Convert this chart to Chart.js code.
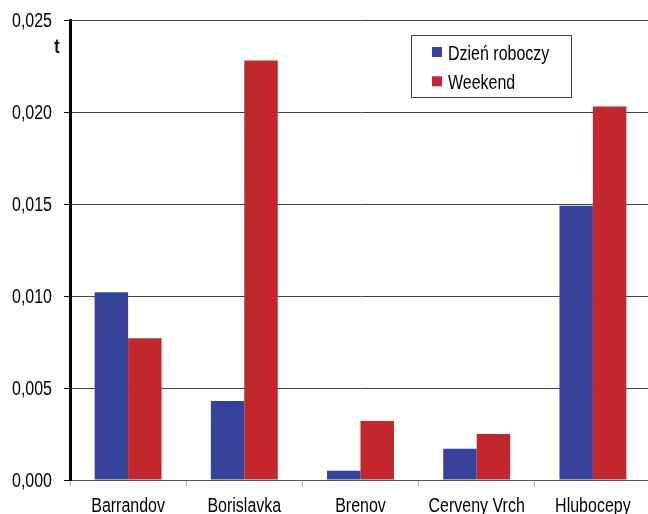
<!DOCTYPE html>
<html>
<head>
<meta charset="utf-8">
<script src="https://cdn.jsdelivr.net/npm/chart.js@4/dist/chart.umd.min.js"></script>
<style>
  html, body { margin: 0; padding: 0; background: #fff; overflow: hidden; }
  #wrap { position: relative; width: 651px; height: 514px; }
</style>
</head>
<body>
<div id="wrap"><canvas id="c" width="651" height="514"></canvas></div>
<script>
// Sites and measured values (t)
const categories = ['Barrandov', 'Borislavka', 'Brenov', 'Cerveny Vrch', 'Hlubocepy'];
const weekdayValues = [0.0102, 0.0043, 0.0005, 0.0017, 0.0149];
const weekendValues = [0.0077, 0.0228, 0.0032, 0.0025, 0.0203];
const seriesNames = ['Dzień roboczy', 'Weekend'];
const yTicks = [0, 0.005, 0.010, 0.015, 0.020, 0.025];
const unitLabel = 't';

const FONT = '"Liberation Sans", Arial, sans-serif';
const SIZE = 19.5;
const SQUEEZE = 0.82; // narrow face look
const BLUE = '#37429b';
const RED = '#c1272d';

function narrowText(ctx, text, x, y, align) {
  ctx.save();
  ctx.translate(x, y);
  ctx.scale(SQUEEZE, 1);
  ctx.textAlign = align;
  ctx.fillText(text, 0, 0);
  ctx.restore();
}

// Axis labels, legend box and the unit label, drawn in a condensed face
const overlay = {
  id: 'overlay',
  afterDraw(chart) {
    const ctx = chart.ctx;
    const ds = chart.data.datasets;
    const xs = chart.scales.x, ys = chart.scales.y;
    ctx.save();
    ctx.fillStyle = '#000';
    ctx.textBaseline = 'alphabetic';
    ctx.font = SIZE + 'px ' + FONT;
    // value axis labels
    ys.ticks.forEach((t, i) => {
      const y = ys.getPixelForTick(i);
      narrowText(ctx, t.value.toFixed(3).replace('.', ','), 52, y + 7, 'right');
    });
    // category labels
    chart.data.labels.forEach((lab, i) => {
      narrowText(ctx, lab, xs.getPixelForValue(i), 512, 'center');
    });
    // unit
    ctx.font = 'bold ' + SIZE + 'px ' + FONT;
    narrowText(ctx, unitLabel, 57, 53, 'center');
    // legend
    const bx = 411.5, by = 35.5, bw = 160, bh = 62;
    ctx.fillStyle = '#fff';
    ctx.fillRect(bx, by, bw, bh);
    ctx.strokeStyle = '#444';
    ctx.lineWidth = 1;
    ctx.strokeRect(bx, by, bw, bh);
    ctx.font = SIZE + 'px ' + FONT;
    ds.forEach((d, i) => {
      const top = 47 + i * 29.3;
      ctx.fillStyle = d.backgroundColor;
      ctx.fillRect(432, top, 10, 10);
      ctx.fillStyle = '#000';
      narrowText(ctx, d.label, 448, top + 12.5, 'left');
    });
    ctx.restore();
  }
};

new Chart(document.getElementById('c'), {
  type: 'bar',
  data: {
    labels: categories,
    datasets: [
      { label: seriesNames[0], data: weekdayValues, backgroundColor: BLUE },
      { label: seriesNames[1], data: weekendValues, backgroundColor: RED }
    ]
  },
  options: {
    responsive: false,
    animation: false,
    devicePixelRatio: 1,
    layout: { padding: { top: 20, right: 0, bottom: 0, left: 0 } },
    datasets: { bar: { categoryPercentage: 0.576, barPercentage: 1 } },
    plugins: { legend: { display: false }, tooltip: { enabled: false } },
    scales: {
      x: {
        afterFit(scale) { scale.height = 34; },
        grid: { offset: true, drawOnChartArea: false, drawTicks: true, tickLength: 6, tickColor: '#b0b0b0' },
        border: { display: true, color: '#555', width: 1 },
        ticks: { display: false }
      },
      y: {
        min: 0,
        max: 0.025,
        afterFit(scale) { scale.width = 70; },
        afterBuildTicks(scale) { scale.ticks = yTicks.map(v => ({ value: v })); },
        grid: { color: '#444', lineWidth: 1, drawTicks: true, tickLength: 6, tickColor: '#000' },
        border: { display: true, color: '#000', width: 3 },
        ticks: { display: false }
      }
    }
  },
  plugins: [overlay]
});
</script>
</body>
</html>
